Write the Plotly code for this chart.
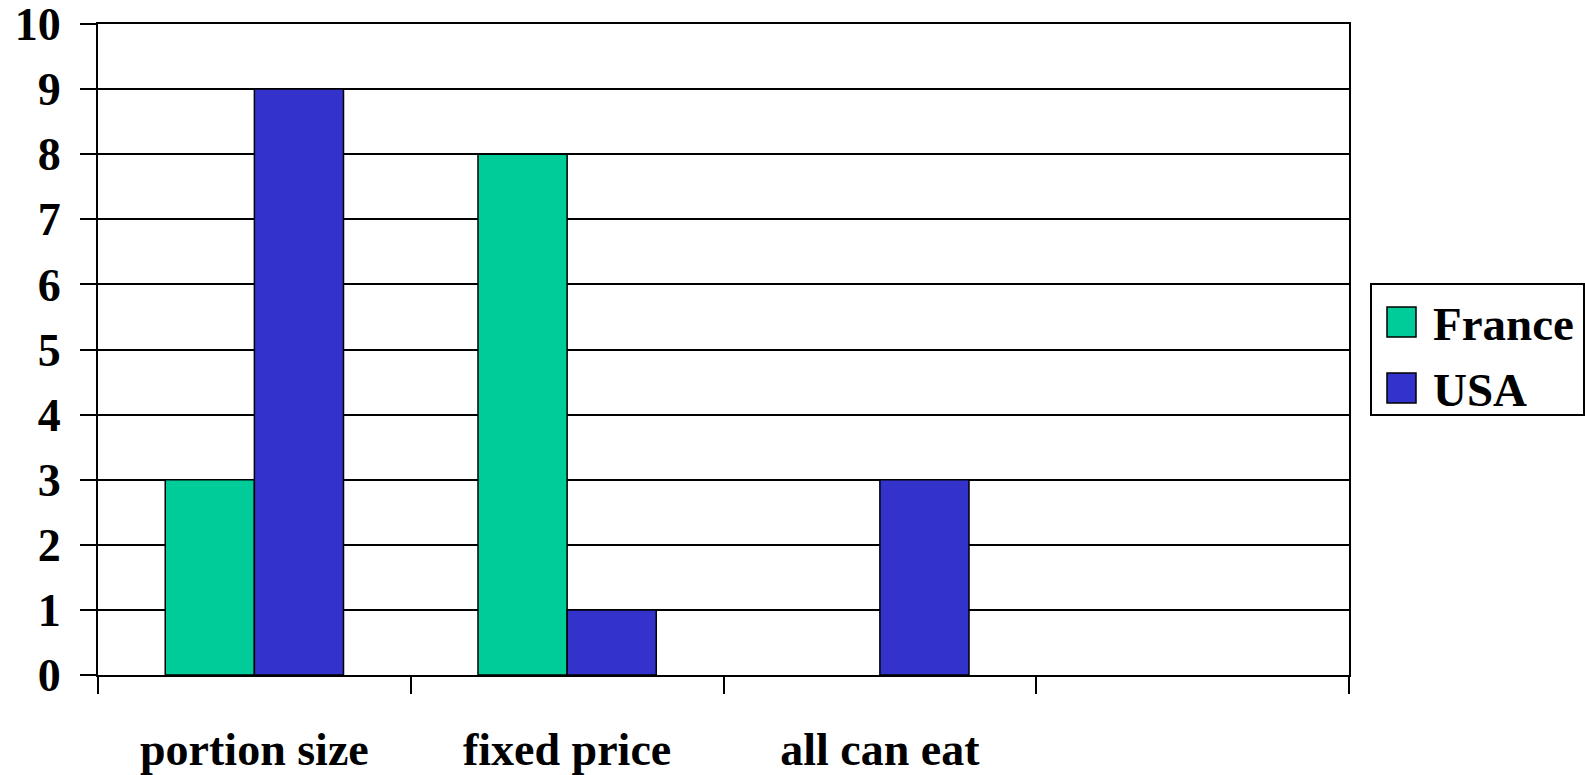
import plotly.graph_objects as go

# Survey counts per reason, two countries
categories = ["portion size", "fixed price", "all can eat", " "]
france = [3, 8, 0, None]
usa = [9, 1, 3, None]
series_names = ["France", "USA"]
series_colors = ["#00CC99", "#3333CC"]
y_ticks = list(range(0, 11))

FONT = "Liberation Serif, Times New Roman, serif"
W, H = 1585, 775
L, R, T, B = 98, 1349, 24, 675  # plot area in pixels


def px_x(x):
    return (x - L) / (R - L)


def px_y(y):
    return (B - y) / (B - T)


fig = go.Figure()
for name, vals, col in zip(series_names, [france, usa], series_colors):
    # zero-height bars get no outline so they stay invisible
    widths = [1.5 if v else 0 for v in vals]
    fig.add_trace(go.Bar(
        x=categories, y=vals, name=name, showlegend=False,
        marker=dict(color=col, line=dict(color="#000000", width=widths)),
    ))

# Legend box drawn by hand so the swatches are full size
shapes = [dict(type="rect", xref="paper", yref="paper",
               x0=px_x(1371), x1=px_x(1584), y0=px_y(415), y1=px_y(284),
               line=dict(color="#000000", width=2), fillcolor="#FFFFFF", layer="above")]
annotations = []
for i, (name, col) in enumerate(zip(series_names, series_colors)):
    cy = 322 + i * 66
    shapes.append(dict(type="rect", xref="paper", yref="paper",
                       x0=px_x(1387), x1=px_x(1416), y0=px_y(cy + 15), y1=px_y(cy - 15),
                       line=dict(color="#000000", width=1.5), fillcolor=col, layer="above"))
    annotations.append(dict(xref="paper", yref="paper", x=px_x(1431), y=px_y(cy + 2),
                            xanchor="left", yanchor="middle", showarrow=False, text=name,
                            font=dict(family=FONT, size=47, color="#000000", weight="bold")))

fig.update_layout(
    width=W, height=H,
    margin=dict(l=L, r=W - R, t=T, b=H - B, autoexpand=False),
    paper_bgcolor="#FFFFFF", plot_bgcolor="#FFFFFF",
    barmode="group", bargap=0.43, bargroupgap=0,
    shapes=shapes, annotations=annotations,
    font=dict(family=FONT, color="#000000"),
    xaxis=dict(
        type="category", categoryorder="array", categoryarray=categories,
        range=[-0.5, 3.5], tickson="boundaries", ticks="outside", ticklen=17,
        tickwidth=2, tickcolor="#000000", showline=True, linecolor="#000000",
        linewidth=2, mirror=True, showgrid=False, ticklabelstandoff=33,
        automargin=False,
        tickfont=dict(family=FONT, size=46, color="#000000", weight="bold"),
    ),
    yaxis=dict(
        range=[0, 10], tickvals=y_ticks, ticks="outside", ticklen=16, tickwidth=2,
        tickcolor="#000000", showline=True, linecolor="#000000", linewidth=2,
        mirror=True, showgrid=True, gridcolor="#000000", gridwidth=1.5,
        zeroline=False, ticklabelstandoff=10, automargin=False,
        ticklabeloverflow="allow",
        tickfont=dict(family=FONT, size=46, color="#000000", weight="bold"),
    ),
)

fig.write_html("out.html")
